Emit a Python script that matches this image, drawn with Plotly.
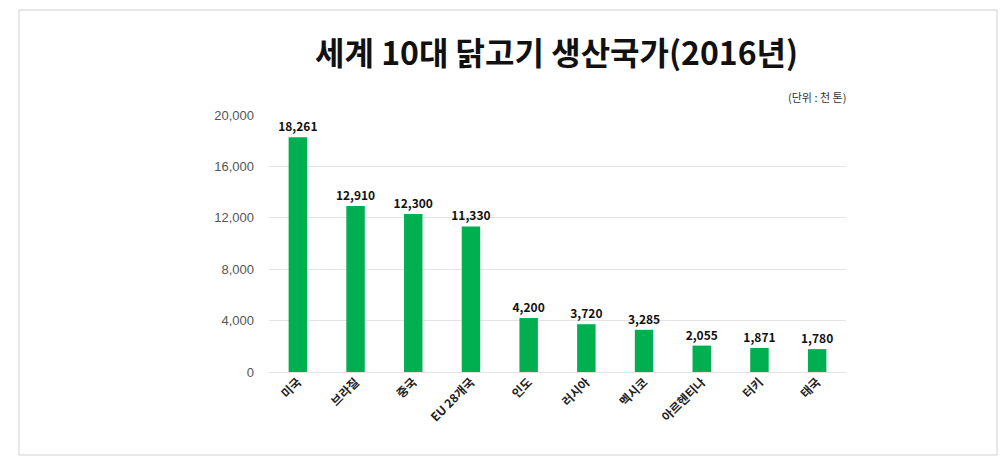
import plotly.graph_objects as go

countries = ["미국", "브라질", "중국", "EU 28개국", "인도", "러시아", "멕시코", "아르헨티나", "터키", "태국"]
production = [18261, 12910, 12300, 11330, 4200, 3720, 3285, 2055, 1871, 1780]
y_ticks = [0, 4000, 8000, 12000, 16000, 20000]
y_tick_labels = ["0", "4,000", "8,000", "12,000", "16,000", "20,000"]

W, H = 1001, 467
ml, mr, mt, mb = 269, 155, 115, 95
pw = W - ml - mr
ph = H - mt - mb


def px2paper_x(px):
    return (px - ml) / pw


def px2paper_y(py):
    return (H - mb - py) / ph


fig = go.Figure(go.Bar(
    x=countries, y=production,
    marker=dict(color="#00B050", line=dict(width=0)),
    text=[f"{v:,}" for v in production],
    textposition="outside",
    constraintext="none",
    textfont=dict(family="Noto Sans CJK KR", size=12, color="#111111", weight="bold"),
    cliponaxis=False,
    width=0.32,
))

fig.update_layout(
    width=W, height=H,
    margin=dict(l=ml, r=mr, t=mt, b=mb),
    paper_bgcolor="white", plot_bgcolor="white",
    showlegend=False,
    font=dict(family="Noto Sans CJK KR"),
    xaxis=dict(
        tickangle=-45, tickfont=dict(size=12, color="#222222", weight="bold"),
        showgrid=False, showline=False, ticks="", ticklen=0,
    ),
    yaxis=dict(
        range=[0, 20000], tickvals=y_ticks, ticktext=y_tick_labels,
        tickfont=dict(family="Liberation Sans", size=13, color="#555555"),
        showgrid=True, gridcolor="#e3e3e3", gridwidth=1,
        zeroline=True, zerolinecolor="#e3e3e3", zerolinewidth=1,
        showline=False, ticks="", ticklabelstandoff=14,
    ),
    annotations=[
        dict(text="세계 10대 닭고기 생산국가(2016년)", x=px2paper_x(556), y=px2paper_y(51),
             xref="paper", yref="paper", xanchor="center", yanchor="middle",
             showarrow=False, font=dict(size=32, color="#111111", weight="bold")),
        dict(text="(단위 : 천 톤)", x=px2paper_x(848), y=px2paper_y(97),
             xref="paper", yref="paper", xanchor="right", yanchor="middle",
             showarrow=False, font=dict(size=11, color="#333333")),
    ],
)

fig.add_shape(type="rect", xref="paper", yref="paper",
              x0=px2paper_x(19), x1=px2paper_x(997), y0=px2paper_y(455), y1=px2paper_y(10),
              line=dict(color="#d0d0d0", width=1), fillcolor="rgba(0,0,0,0)", layer="below")

fig.write_html("out.html")
